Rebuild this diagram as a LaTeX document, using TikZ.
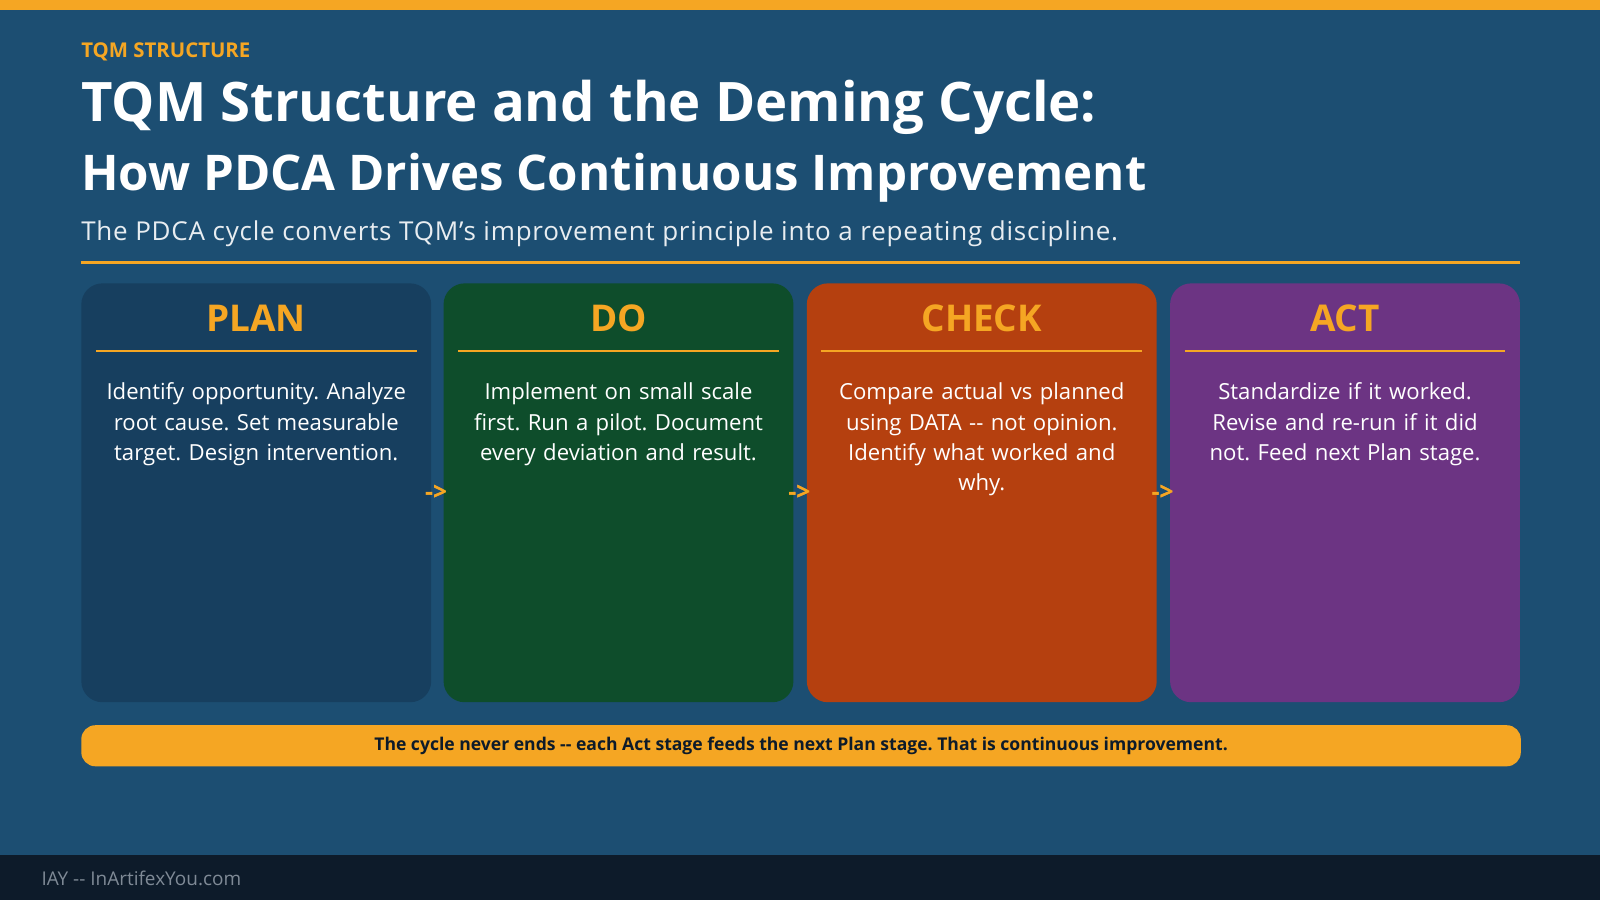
\documentclass[tikz,border=0pt]{standalone}
\usepackage{fontspec}
\setmainfont{Open Sans}
\frenchspacing
\usetikzlibrary{positioning}
\definecolor{bgblue}{HTML}{1C4E72}
\definecolor{accent}{HTML}{F5A623}
\definecolor{planbg}{HTML}{173F5F}
\definecolor{dobg}{HTML}{0E4D2B}
\definecolor{checkbg}{HTML}{B5400F}
\definecolor{actbg}{HTML}{6C3483}
\definecolor{footbg}{HTML}{0D1B2A}
\definecolor{foottx}{HTML}{7F8A96}
\tikzset{
  stage/.style={rounded corners=6pt, minimum width=3.5cm, minimum height=4.19cm, inner sep=0pt},
  head/.style={text=accent, font=\bfseries\fontsize{10.5}{13}\selectfont},
  body/.style={text=white, align=center, text width=3.15cm, font=\fontsize{6.3}{8.6}\selectfont},
  link/.style={text=accent, inner sep=0pt, font=\bfseries\fontsize{7}{7}\selectfont},
  plain/.style={anchor=west, inner sep=0pt}
}
\begin{document}
\begin{tikzpicture}[x=0.010204cm, y=-0.010204cm]
\useasboundingbox (0,0) rectangle (1568,882);
\fill[bgblue] (0,0) rectangle (1568,882);
\fill[accent] (0,0) rectangle (1568,10);
\fill[footbg] (0,838) rectangle (1568,882);

% titles
\node[plain, text=accent, font=\bfseries\fontsize{5.8}{7}\selectfont] (kicker) at (79,51) {TQM STRUCTURE};
\node[plain, text=white, font=\bfseries\fontsize{15.5}{19}\selectfont] (title) at (79,105) {TQM Structure and the Deming Cycle:};
\node[plain, text=white, font=\bfseries\fontsize{14}{17}\selectfont] (title2) at (79,174) {How PDCA Drives Continuous Improvement};
\node[plain, text=white!90!bgblue, font=\fontsize{7.4}{9}\selectfont] (sub) at (79,229) {\addfontfeature{LetterSpace=3}The PDCA cycle converts TQM's improvement principle into a repeating discipline.};
\draw[accent, line width=0.8pt] (79,257) -- (1490,257);

% arrows between stages (under the boxes)
\node[link, anchor=west] (l1) at (416,483) {->};
\node[link, anchor=west] (l2) at (772,483) {->};
\node[link, anchor=west] (l3) at (1128,483) {->};

% stages
\foreach \name/\x/\col/\ttl/\txt in {
  plan/79/planbg/PLAN/{Identify opportunity. Analyze root cause. Set measurable target. Design intervention.},
  do/434/dobg/DO/{Implement on small scale first. Run a pilot. Document every deviation and result.},
  check/790/checkbg/CHECK/{Compare actual vs planned\\using DATA -{}- not opinion.\\Identify what worked and\\why.},
  act/1146/actbg/ACT/{Standardize if it worked. Revise and re-run if it did not. Feed next Plan stage.}}{
  \node[stage, fill=\col, anchor=north west] (\name) at (\x,277) {};
  \node[head] (\name-h) at ([yshift=-0.36cm]\name.north) {\ttl};
  \draw[accent, line width=0.6pt] ([xshift=0.153cm,yshift=-0.68cm]\name.north west) -- ([xshift=-0.153cm,yshift=-0.68cm]\name.north east);
  \node[body, anchor=north] (\name-t) at ([yshift=-0.88cm]\name.north) {\txt};
}
% arrow heads peeking over the next box edge
\foreach \a in {l1,l2,l3}
  \node[link, anchor=west] at (\a.west) {->};

% banner
\node[fill=accent, rounded corners=4pt, minimum width=14.4cm, minimum height=0.4cm, anchor=north west,
  font=\bfseries\fontsize{5}{6}\selectfont, text=footbg] (banner) at (79,710)
  {The cycle never ends -{}- each Act stage feeds the next Plan stage. That is continuous improvement.};

\node[plain, text=foottx, font=\fontsize{5.4}{7}\selectfont] (foot) at (40,861) {IAY -{}- InArtifexYou.com};
\end{tikzpicture}
\end{document}
